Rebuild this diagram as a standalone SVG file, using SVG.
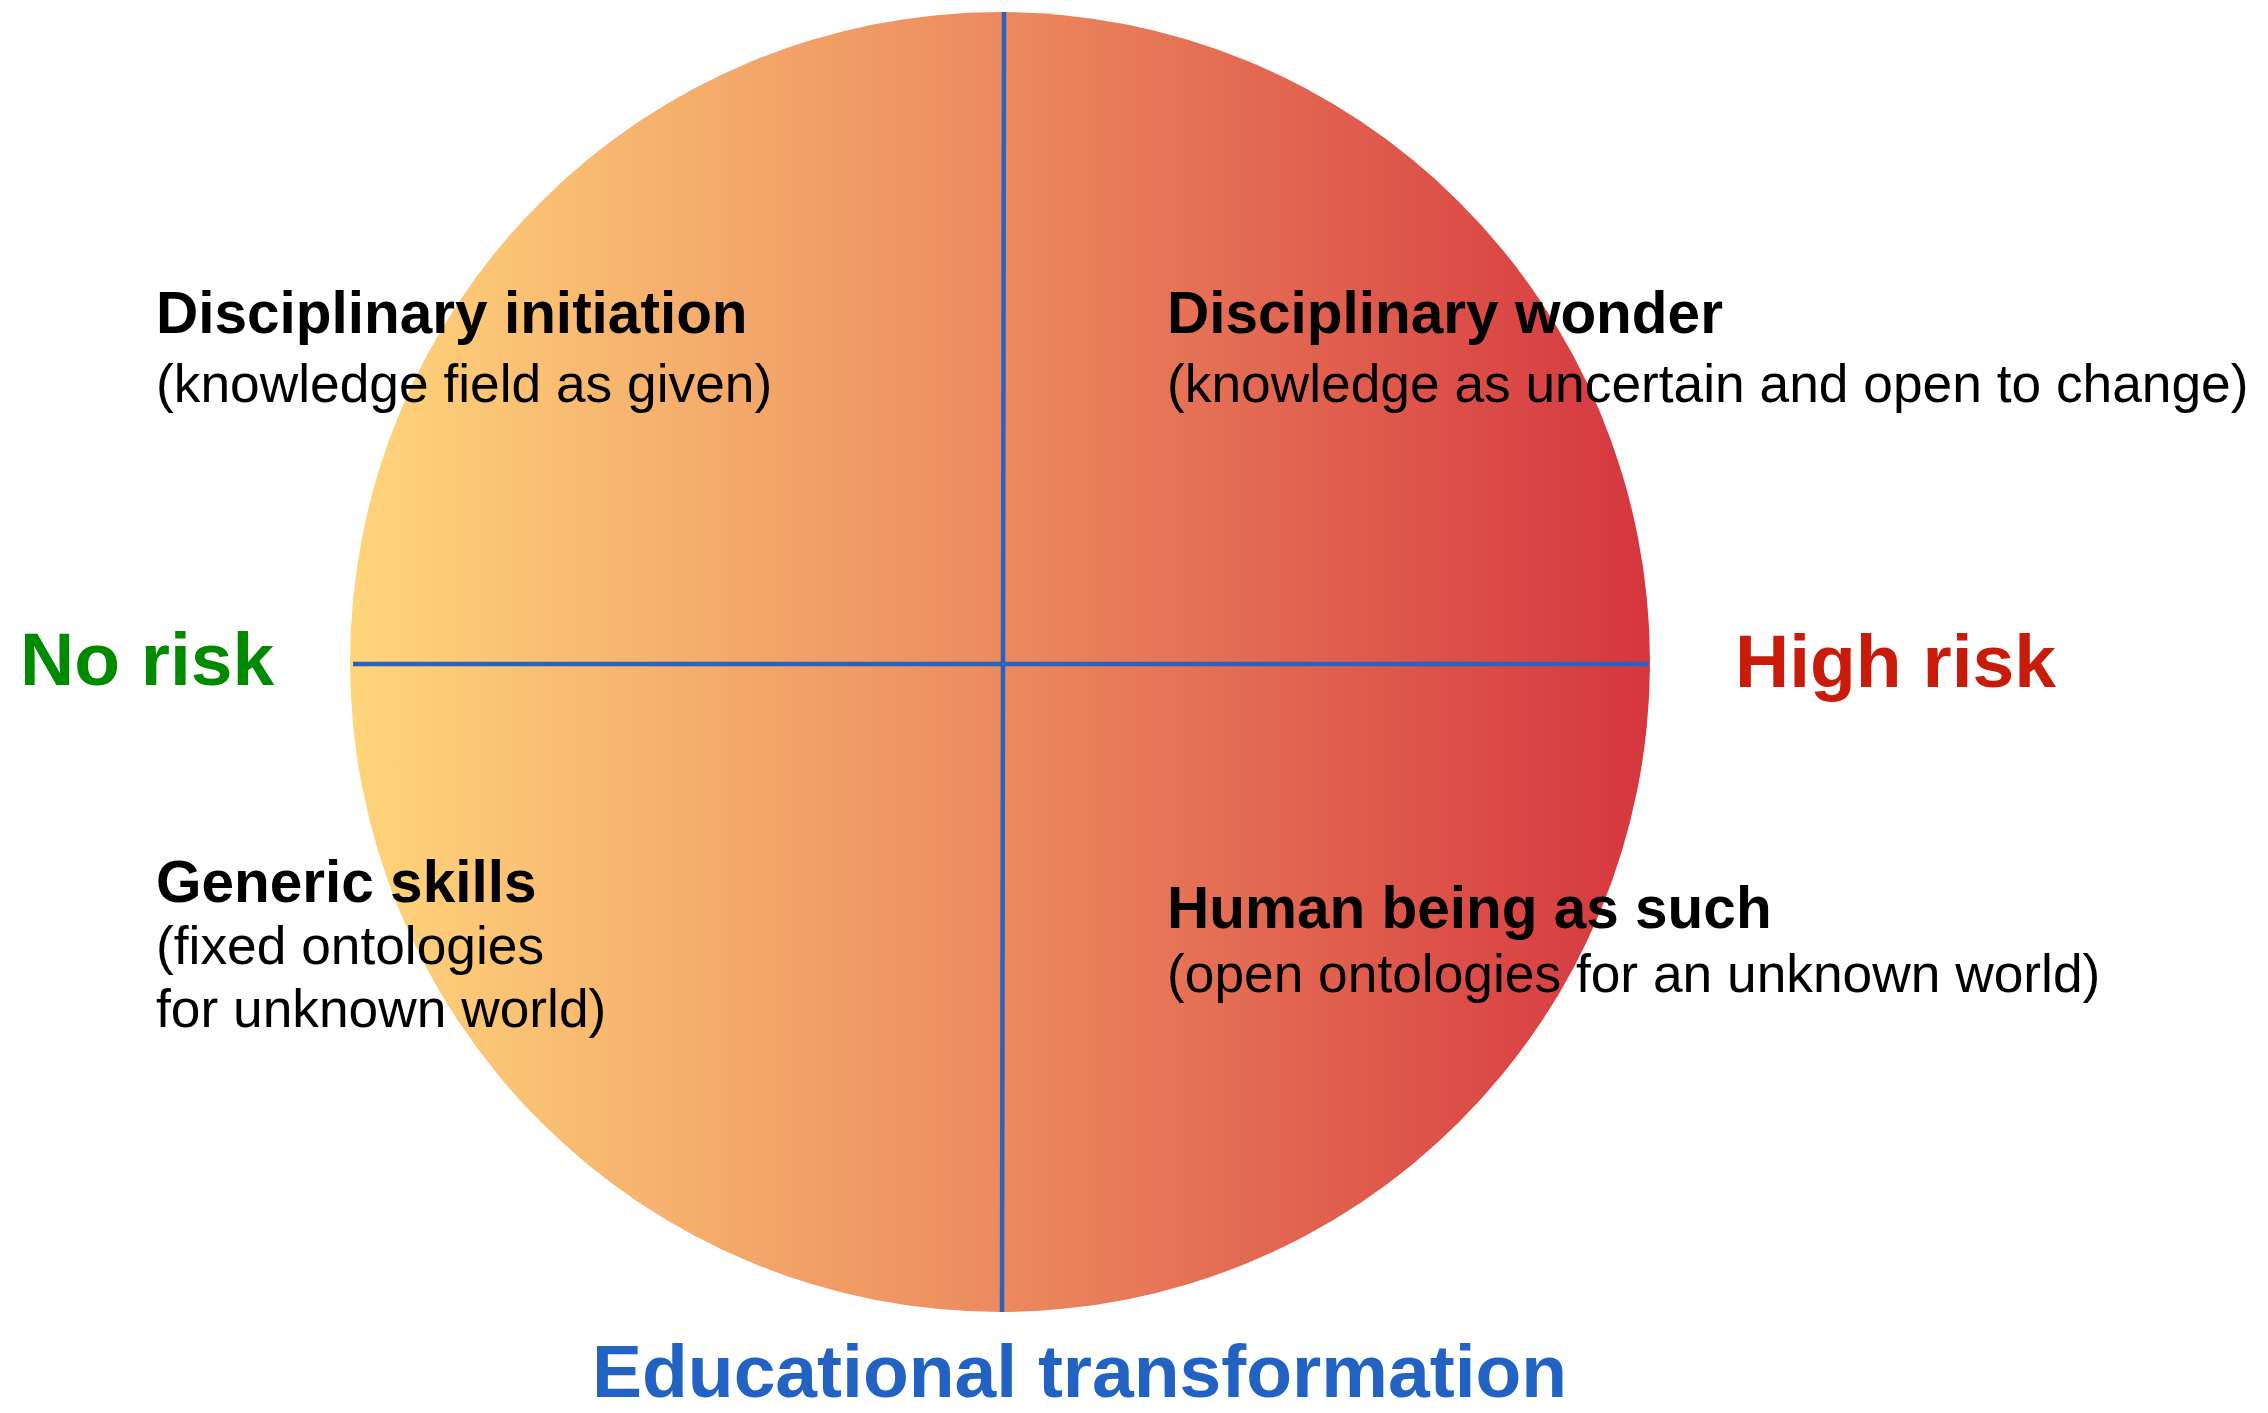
<svg xmlns="http://www.w3.org/2000/svg" width="2268" height="1413" viewBox="0 0 2268 1413">
  <style>
    text { font-family: "Liberation Sans", Arial, sans-serif; }
    .head { font-size: 58.5px; font-weight: bold; fill: #000000; }
    .sub { font-size: 53.3px; fill: #000000; }
    .axis { stroke: #2A62C0; stroke-width: 4.5; fill: none; }
    .pole { font-size: 75px; font-weight: bold; }
  </style>
  <defs>
    <linearGradient id="risk" x1="350" y1="0" x2="1650" y2="0" gradientUnits="userSpaceOnUse">
      <stop offset="0" stop-color="#FFD57B"/>
      <stop offset="0.5" stop-color="#EC8A5F"/>
      <stop offset="1" stop-color="#D5363F"/>
    </linearGradient>
  </defs>
  <rect width="2268" height="1413" fill="#FFFFFF"/>
  <g id="circle">
    <circle cx="1000" cy="662" r="650" fill="url(#risk)"/>
  </g>
  <g id="connectors">
    <line class="axis" x1="353" y1="664" x2="1648" y2="664"/>
    <line class="axis" x1="1004" y1="12" x2="1002" y2="1312"/>
  </g>
  <g id="disciplinary-initiation">
    <text class="head" x="156" y="333">Disciplinary initiation</text>
    <text class="sub" x="156" y="402">(knowledge field as given)</text>
  </g>
  <g id="disciplinary-wonder">
    <text class="head" x="1167" y="333">Disciplinary wonder</text>
    <text class="sub" x="1167" y="402">(knowledge as uncertain and open to change)</text>
  </g>
  <g id="generic-skills">
    <text class="head" x="156" y="902">Generic skills</text>
    <text class="sub" x="156" y="964">(fixed ontologies</text>
    <text class="sub" x="156" y="1027">for unknown world)</text>
  </g>
  <g id="human-being">
    <text class="head" x="1167" y="928">Human being as such</text>
    <text class="sub" x="1167" y="992">(open ontologies for an unknown world)</text>
  </g>
  <g id="no-risk">
    <text class="pole" x="20" y="685" fill="#008A00">No risk</text>
  </g>
  <g id="high-risk">
    <text class="pole" x="1735" y="687" fill="#C81B09">High risk</text>
  </g>
  <g id="educational-transformation">
    <text class="pole" x="592" y="1397" font-size="73" fill="#2262C2">Educational transformation</text>
  </g>
</svg>
